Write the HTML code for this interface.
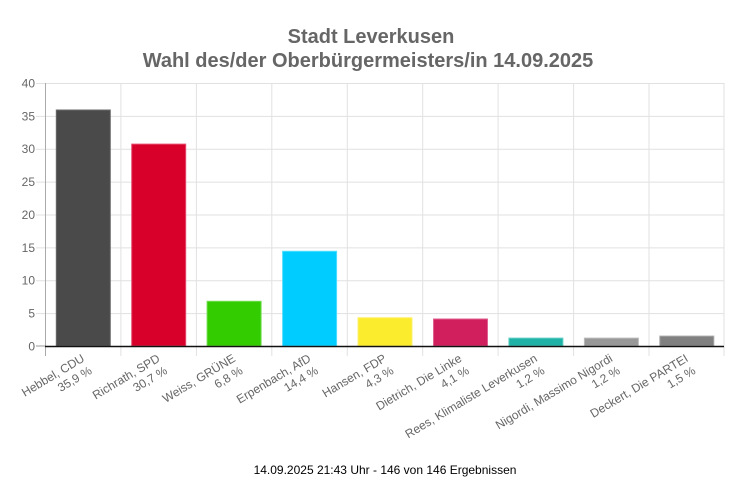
<!DOCTYPE html>
<html><head><meta charset="utf-8"><style>
html,body{margin:0;padding:0;background:#fff;}
svg{display:block;}
text{font-family:"Liberation Sans",Arial,sans-serif;}
</style></head><body>
<svg width="743" height="495" viewBox="0 0 743 495" xmlns="http://www.w3.org/2000/svg">
<rect width="743" height="495" fill="#fff"/>
<text x="371" y="43" text-anchor="middle" font-size="20" font-weight="bold" fill="#666">Stadt Leverkusen</text>
<text x="368" y="67" text-anchor="middle" font-size="20" font-weight="bold" fill="#666">Wahl des/der Oberbürgermeisters/in 14.09.2025</text>
<g stroke="#e1e1e1" stroke-width="1">
<line x1="36" y1="83.5" x2="724" y2="83.5"/>
<line x1="36" y1="116.4" x2="724" y2="116.4"/>
<line x1="36" y1="149.2" x2="724" y2="149.2"/>
<line x1="36" y1="182.1" x2="724" y2="182.1"/>
<line x1="36" y1="215" x2="724" y2="215"/>
<line x1="36" y1="247.9" x2="724" y2="247.9"/>
<line x1="36" y1="280.7" x2="724" y2="280.7"/>
<line x1="36" y1="313.6" x2="724" y2="313.6"/>
<line x1="120.9" y1="83" x2="120.9" y2="356"/>
<line x1="196.4" y1="83" x2="196.4" y2="356"/>
<line x1="271.8" y1="83" x2="271.8" y2="356"/>
<line x1="347.3" y1="83" x2="347.3" y2="356"/>
<line x1="422.7" y1="83" x2="422.7" y2="356"/>
<line x1="498.1" y1="83" x2="498.1" y2="356"/>
<line x1="573.6" y1="83" x2="573.6" y2="356"/>
<line x1="649" y1="83" x2="649" y2="356"/>
<line x1="724" y1="83" x2="724" y2="356"/>
</g>
<line x1="36" y1="346" x2="45" y2="346" stroke="#999" stroke-width="1"/>
<line x1="45.5" y1="83" x2="45.5" y2="356" stroke="#aaa" stroke-width="1"/>
<g font-size="12" fill="#666" text-anchor="end">
<text x="35" y="87.5">40</text>
<text x="35" y="120.4">35</text>
<text x="35" y="153.2">30</text>
<text x="35" y="186.1">25</text>
<text x="35" y="219">20</text>
<text x="35" y="251.9">15</text>
<text x="35" y="284.7">10</text>
<text x="35" y="317.6">5</text>
<text x="35" y="350.4">0</text>
</g>
<g stroke-width="1">
<rect x="56.3" y="110" width="54" height="236" fill="#4a4a4a" stroke="#6a6a6a"/>
<rect x="131.7" y="144.1" width="54" height="201.9" fill="#d8002a" stroke="#e45070"/>
<rect x="207.1" y="301.3" width="54" height="44.7" fill="#33cc00" stroke="#70dd50"/>
<rect x="282.6" y="251.3" width="54" height="94.7" fill="#00ccff" stroke="#50ddff"/>
<rect x="358" y="317.7" width="54" height="28.3" fill="#fcec2e" stroke="#fdf070"/>
<rect x="433.5" y="319" width="54" height="27" fill="#d01f5c" stroke="#e06090"/>
<rect x="508.9" y="338.1" width="54" height="7.9" fill="#20b2a6" stroke="#60cfc5"/>
<rect x="584.4" y="338.1" width="54" height="7.9" fill="#989898" stroke="#bbb"/>
<rect x="659.8" y="336.1" width="54" height="9.9" fill="#808080" stroke="#a8a8a8"/>
</g>
<line x1="45" y1="346.5" x2="724" y2="346.5" stroke="#111" stroke-width="1.6"/>
<g font-size="12" fill="#666" text-anchor="end">
<text transform="translate(83.2,357) rotate(-31)"><tspan x="0" y="4.2">Hebbel, CDU</tspan><tspan x="0" y="18.6">35,9 %</tspan></text>
<text transform="translate(158.6,357) rotate(-31)"><tspan x="0" y="4.2">Richrath, SPD</tspan><tspan x="0" y="18.6">30,7 %</tspan></text>
<text transform="translate(234.1,357) rotate(-31)"><tspan x="0" y="4.2">Weiss, GRÜNE</tspan><tspan x="0" y="18.6">6,8 %</tspan></text>
<text transform="translate(309.5,357) rotate(-31)"><tspan x="0" y="4.2">Erpenbach, AfD</tspan><tspan x="0" y="18.6">14,4 %</tspan></text>
<text transform="translate(385,357) rotate(-31)"><tspan x="0" y="4.2">Hansen, FDP</tspan><tspan x="0" y="18.6">4,3 %</tspan></text>
<text transform="translate(460.4,357) rotate(-31)"><tspan x="0" y="4.2">Dietrich, Die Linke</tspan><tspan x="0" y="18.6">4,1 %</tspan></text>
<text transform="translate(535.9,357) rotate(-31)"><tspan x="0" y="4.2">Rees, Klimaliste Leverkusen</tspan><tspan x="0" y="18.6">1,2 %</tspan></text>
<text transform="translate(611.3,357) rotate(-31)"><tspan x="0" y="4.2">Nigordi, Massimo Nigordi</tspan><tspan x="0" y="18.6">1,2 %</tspan></text>
<text transform="translate(686.8,357) rotate(-31)"><tspan x="0" y="4.2">Deckert, Die PARTEI</tspan><tspan x="0" y="18.6">1,5 %</tspan></text>
</g>
<text x="385" y="474" text-anchor="middle" font-size="12" fill="#000">14.09.2025 21:43 Uhr - 146 von 146 Ergebnissen</text>
</svg>
</body></html>
